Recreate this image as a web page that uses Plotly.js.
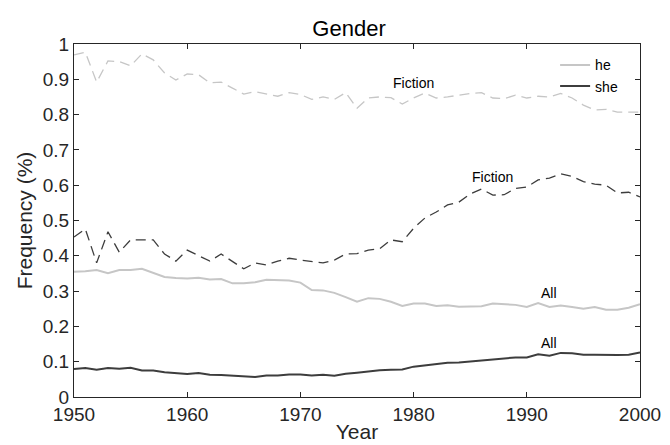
<!DOCTYPE html>
<html>
<head>
<meta charset="utf-8">
<script src="https://cdn.plot.ly/plotly-3.0.1.min.js"></script>
<style>html,body{margin:0;padding:0;background:#fff}#chart{width:670px;height:445px}</style>
</head>
<body>
<div id="chart"></div>
<script>
const years = [];
for (let y = 1950; y <= 2000; y++) years.push(y);

const heFiction = [0.969,0.977,0.892,0.952,0.950,0.938,0.972,0.955,0.918,0.898,
  0.915,0.913,0.890,0.892,0.875,0.858,0.865,0.858,0.852,0.862,
  0.857,0.843,0.850,0.843,0.862,0.818,0.847,0.850,0.848,0.830,
  0.847,0.861,0.847,0.850,0.855,0.860,0.862,0.847,0.845,0.855,
  0.847,0.852,0.850,0.860,0.847,0.827,0.813,0.815,0.807,0.806,0.807];

const sheFiction = [0.453,0.476,0.380,0.468,0.410,0.445,0.445,0.445,0.405,0.385,
  0.416,0.400,0.385,0.405,0.385,0.363,0.380,0.374,0.385,0.393,
  0.388,0.384,0.380,0.388,0.405,0.406,0.416,0.420,0.445,0.440,
  0.478,0.507,0.524,0.544,0.552,0.575,0.589,0.572,0.573,0.591,
  0.595,0.615,0.620,0.632,0.625,0.610,0.603,0.600,0.578,0.580,0.567];

const heAll = [0.355,0.356,0.360,0.351,0.360,0.360,0.363,0.352,0.340,0.337,
  0.336,0.338,0.333,0.334,0.322,0.322,0.325,0.332,0.331,0.330,
  0.324,0.303,0.302,0.295,0.283,0.270,0.280,0.278,0.270,0.258,
  0.265,0.265,0.258,0.260,0.256,0.256,0.257,0.265,0.262,0.261,
  0.255,0.266,0.255,0.259,0.255,0.250,0.255,0.247,0.247,0.253,0.263];

const sheAll = [0.079,0.082,0.077,0.082,0.080,0.083,0.075,0.075,0.070,0.067,
  0.065,0.068,0.063,0.062,0.060,0.058,0.057,0.061,0.061,0.064,
  0.064,0.061,0.063,0.060,0.066,0.069,0.073,0.076,0.077,0.078,
  0.086,0.090,0.093,0.097,0.098,0.101,0.104,0.108,0.109,0.112,
  0.112,0.121,0.117,0.125,0.124,0.120,0.120,0.119,0.119,0.120,0.126];

const labelText = ['Fiction','Fiction','All','All'];
const labelX = [1980,1987,1992,1992];
const labelY = [0.89,0.623,0.295,0.153];

const lightGray = '#c6c6c6';
const darkGray = '#3d3d3d';
const font = 'Liberation Sans, Arial, Helvetica, sans-serif';

const traces = [
  {x: years, y: heAll, type: 'scatter', mode: 'lines', name: 'he',
   line: {color: lightGray, width: 2}, legendgroup: 'he'},
  {x: years, y: sheAll, type: 'scatter', mode: 'lines', name: 'she',
   line: {color: darkGray, width: 2}, legendgroup: 'she'},
  {x: years, y: heFiction, type: 'scatter', mode: 'lines', name: 'he fiction',
   line: {color: lightGray, width: 1.3, dash: '10px,6px'}, showlegend: false},
  {x: years, y: sheFiction, type: 'scatter', mode: 'lines', name: 'she fiction',
   line: {color: darkGray, width: 1.3, dash: '10px,6px'}, showlegend: false}
];

const annotations = labelText.map((t, i) => ({
  x: labelX[i], y: labelY[i], xref: 'x', yref: 'y', text: t, showarrow: false,
  font: {family: font, size: 14, color: '#000'}
}));

const axisCommon = {
  showgrid: false, zeroline: false, showline: true, linecolor: '#262626', linewidth: 1,
  mirror: 'ticks', ticks: 'inside', ticklen: 5, tickcolor: '#262626',
  tickfont: {family: font, size: 19, color: '#262626'}
};

const layout = {
  width: 670, height: 445,
  margin: {l: 74, r: 30, t: 44, b: 48},
  paper_bgcolor: '#fff', plot_bgcolor: '#fff',
  title: {text: 'Gender', font: {family: font, size: 22, color: '#000'},
    x: 0.521, xanchor: 'center', yref: 'container', y: 0.918, yanchor: 'bottom'},
  xaxis: Object.assign({}, axisCommon, {range: [1950, 2000], dtick: 10, tick0: 1950,
    title: {text: 'Year', font: {family: font, size: 21, color: '#262626'}, standoff: 0}}),
  yaxis: Object.assign({}, axisCommon, {range: [0, 1], dtick: 0.1, tick0: 0,
    title: {text: 'Frequency (%)', font: {family: font, size: 21, color: '#262626'}, standoff: 4}}),
  legend: {x: 0.85, y: 0.985, xanchor: 'left', yanchor: 'top', bgcolor: 'rgba(255,255,255,0)',
    font: {family: font, size: 14, color: '#000'}, tracegroupgap: 0, itemwidth: 30},
  annotations: annotations,
  showlegend: true
};

Plotly.newPlot('chart', traces, layout, {staticPlot: true, displayModeBar: false});
</script>
</body>
</html>
